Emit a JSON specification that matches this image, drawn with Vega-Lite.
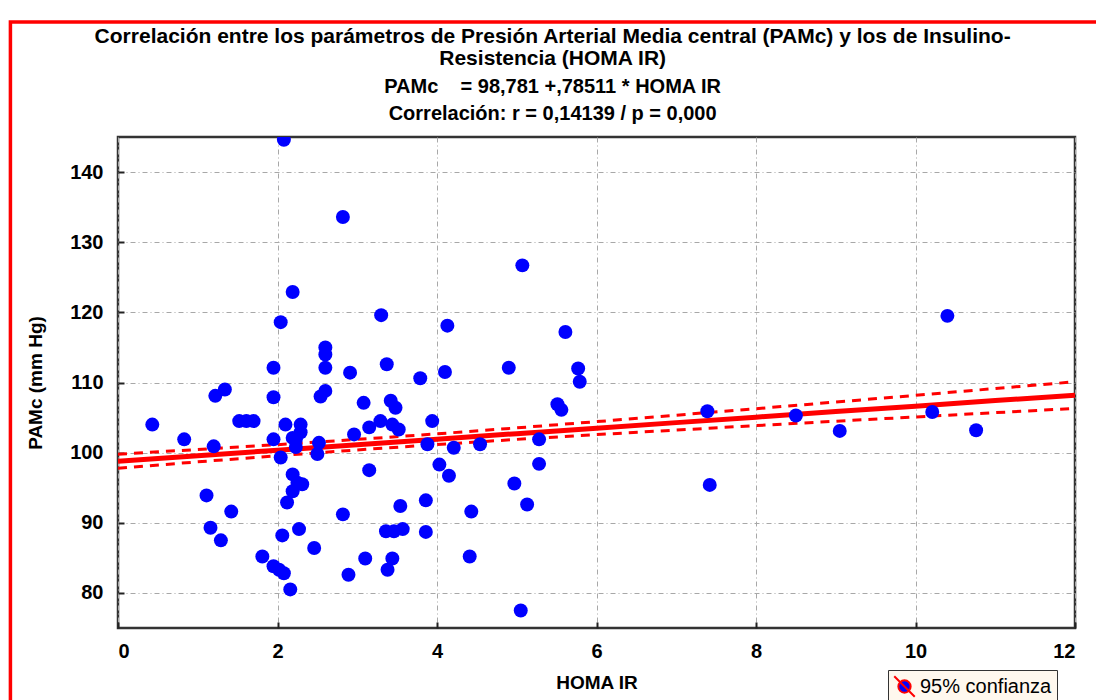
{
  "$schema": "https://vega.github.io/schema/vega-lite/v6.json",
  "width": 957,
  "height": 491,
  "autosize": {"type": "none"},
  "padding": {"left": 118, "top": 137, "right": 21, "bottom": 72},
  "background": "white",
  "title": {
    "text": ["Correlación entre los parámetros de Presión Arterial Media central (PAMc) y los de Insulino-", "Resistencia (HOMA IR)"],
    "subtitle": ["PAMc\u00a0\u00a0\u00a0\u00a0= 98,781 +,78511 * HOMA IR", "Correlación: r = 0,14139 / p = 0,000"],
    "anchor": "middle",
    "frame": "bounds",
    "dx": -10,
    "font": "Liberation Sans",
    "fontSize": 21,
    "fontWeight": "bold",
    "color": "black",
    "lineHeight": 22,
    "subtitleFont": "Liberation Sans",
    "subtitleFontSize": 20,
    "subtitleFontWeight": "bold",
    "subtitleColor": "black",
    "subtitleLineHeight": 27,
    "subtitlePadding": 8,
    "offset": -104
  },
  "datasets": {
    "pts": [
      {"homa": 2.08, "pamc": 144.6}, {"homa": 2.82, "pamc": 133.6}, {"homa": 5.07, "pamc": 126.7},
      {"homa": 2.19, "pamc": 122.9}, {"homa": 2.04, "pamc": 118.6}, {"homa": 3.30, "pamc": 119.6},
      {"homa": 4.13, "pamc": 118.1}, {"homa": 5.61, "pamc": 117.2}, {"homa": 10.40, "pamc": 119.5},
      {"homa": 2.60, "pamc": 115.0}, {"homa": 2.60, "pamc": 114.0}, {"homa": 1.95, "pamc": 112.1},
      {"homa": 2.60, "pamc": 112.1}, {"homa": 2.91, "pamc": 111.4}, {"homa": 3.37, "pamc": 112.6},
      {"homa": 3.79, "pamc": 110.6}, {"homa": 4.10, "pamc": 111.5}, {"homa": 4.90, "pamc": 112.1},
      {"homa": 5.77, "pamc": 112.0}, {"homa": 5.79, "pamc": 110.1}, {"homa": 1.34, "pamc": 109.0},
      {"homa": 1.22, "pamc": 108.1}, {"homa": 1.95, "pamc": 107.9}, {"homa": 2.60, "pamc": 108.8},
      {"homa": 2.54, "pamc": 108.0}, {"homa": 3.08, "pamc": 107.1}, {"homa": 3.42, "pamc": 107.4},
      {"homa": 3.48, "pamc": 106.4}, {"homa": 5.51, "pamc": 106.9}, {"homa": 5.56, "pamc": 106.1},
      {"homa": 0.43, "pamc": 104.0}, {"homa": 0.83, "pamc": 101.9}, {"homa": 1.52, "pamc": 104.5},
      {"homa": 1.61, "pamc": 104.5}, {"homa": 1.70, "pamc": 104.5}, {"homa": 1.20, "pamc": 100.9},
      {"homa": 1.95, "pamc": 101.9}, {"homa": 2.04, "pamc": 99.3}, {"homa": 2.10, "pamc": 104.0},
      {"homa": 2.29, "pamc": 104.0}, {"homa": 2.29, "pamc": 102.9}, {"homa": 2.19, "pamc": 102.1},
      {"homa": 2.23, "pamc": 101.9}, {"homa": 2.52, "pamc": 101.4}, {"homa": 2.50, "pamc": 99.8},
      {"homa": 2.96, "pamc": 102.6}, {"homa": 3.15, "pamc": 103.6}, {"homa": 3.29, "pamc": 104.5},
      {"homa": 3.44, "pamc": 104.0}, {"homa": 3.52, "pamc": 103.3}, {"homa": 3.94, "pamc": 104.5},
      {"homa": 3.88, "pamc": 101.2}, {"homa": 4.21, "pamc": 100.7}, {"homa": 4.54, "pamc": 101.2},
      {"homa": 5.28, "pamc": 101.9}, {"homa": 3.15, "pamc": 97.5}, {"homa": 4.03, "pamc": 98.3},
      {"homa": 4.15, "pamc": 96.7}, {"homa": 5.28, "pamc": 98.4}, {"homa": 4.97, "pamc": 95.6},
      {"homa": 5.13, "pamc": 92.6}, {"homa": 4.43, "pamc": 91.6}, {"homa": 4.41, "pamc": 85.2},
      {"homa": 5.05, "pamc": 77.5}, {"homa": 7.39, "pamc": 105.9}, {"homa": 7.42, "pamc": 95.4},
      {"homa": 8.50, "pamc": 105.3}, {"homa": 9.05, "pamc": 103.1}, {"homa": 10.21, "pamc": 105.8},
      {"homa": 10.76, "pamc": 103.2}, {"homa": 2.19, "pamc": 96.9}, {"homa": 2.25, "pamc": 95.7},
      {"homa": 2.31, "pamc": 95.5}, {"homa": 2.19, "pamc": 94.5}, {"homa": 2.12, "pamc": 92.9},
      {"homa": 1.11, "pamc": 93.9}, {"homa": 1.42, "pamc": 91.6}, {"homa": 1.16, "pamc": 89.3},
      {"homa": 1.29, "pamc": 87.5}, {"homa": 1.81, "pamc": 85.2}, {"homa": 1.95, "pamc": 83.8},
      {"homa": 2.02, "pamc": 83.3}, {"homa": 2.08, "pamc": 82.8}, {"homa": 2.16, "pamc": 80.5},
      {"homa": 2.06, "pamc": 88.2}, {"homa": 2.27, "pamc": 89.1}, {"homa": 2.46, "pamc": 86.4},
      {"homa": 2.82, "pamc": 91.2}, {"homa": 2.89, "pamc": 82.6}, {"homa": 3.10, "pamc": 84.9},
      {"homa": 3.36, "pamc": 88.8}, {"homa": 3.46, "pamc": 88.8}, {"homa": 3.57, "pamc": 89.1},
      {"homa": 3.54, "pamc": 92.4}, {"homa": 3.86, "pamc": 93.2}, {"homa": 3.86, "pamc": 88.7},
      {"homa": 3.44, "pamc": 84.9}, {"homa": 3.38, "pamc": 83.3}, {"homa": 2.23, "pamc": 100.8}
    ],
    "fit": [
      {"homa": 0, "fit": 98.78, "lo": 97.78, "hi": 99.78},
      {"homa": 1, "fit": 99.57, "lo": 98.69, "hi": 100.45},
      {"homa": 2, "fit": 100.35, "lo": 99.56, "hi": 101.14},
      {"homa": 3, "fit": 101.14, "lo": 100.39, "hi": 101.89},
      {"homa": 4, "fit": 101.92, "lo": 101.16, "hi": 102.68},
      {"homa": 5, "fit": 102.71, "lo": 101.89, "hi": 103.53},
      {"homa": 6, "fit": 103.49, "lo": 102.57, "hi": 104.42},
      {"homa": 7, "fit": 104.28, "lo": 103.22, "hi": 105.34},
      {"homa": 8, "fit": 105.06, "lo": 103.86, "hi": 106.27},
      {"homa": 9, "fit": 105.85, "lo": 104.48, "hi": 107.22},
      {"homa": 10, "fit": 106.63, "lo": 105.09, "hi": 108.17},
      {"homa": 11, "fit": 107.42, "lo": 105.70, "hi": 109.14},
      {"homa": 12, "fit": 108.20, "lo": 106.30, "hi": 110.10}
    ]
  },
  "layer": [
    {
      "data": {"name": "fit"},
      "mark": {"type": "line", "color": "#FF0000", "strokeWidth": 3, "strokeDash": [9, 7], "clip": true},
      "encoding": {
        "x": {"field": "homa", "type": "quantitative", "scale": {"domain": [0, 12], "nice": false},
          "axis": {"values": [0, 2, 4, 6, 8, 10, 12], "format": "d", "title": "HOMA IR", "grid": true, "tickSize": -6, "labelPadding": 19, "titlePadding": 12}},
        "y": {"field": "lo", "type": "quantitative", "scale": {"domain": [75, 145], "nice": false, "zero": false},
          "axis": {"values": [80, 90, 100, 110, 120, 130, 140], "format": "d", "title": "PAMc (mm Hg)", "grid": true, "tickSize": -6, "labelPadding": 21, "titlePadding": 24}}
      }
    },
    {
      "data": {"name": "fit"},
      "mark": {"type": "line", "color": "#FF0000", "strokeWidth": 3, "strokeDash": [9, 7], "clip": true},
      "encoding": {
        "x": {"field": "homa", "type": "quantitative"},
        "y": {"field": "hi", "type": "quantitative"}
      }
    },
    {
      "data": {"name": "fit"},
      "mark": {"type": "line", "color": "#FF0000", "strokeWidth": 5, "clip": true},
      "encoding": {
        "x": {"field": "homa", "type": "quantitative"},
        "y": {"field": "fit", "type": "quantitative"}
      }
    },
    {
      "data": {"name": "pts"},
      "mark": {"type": "circle", "opacity": 1, "size": 195, "clip": true},
      "encoding": {
        "x": {"field": "homa", "type": "quantitative"},
        "y": {"field": "pamc", "type": "quantitative"},
        "color": {"datum": "95% confianza", "type": "nominal", "scale": {"range": ["#0000FF"]},
          "legend": {"title": null, "orient": "none", "legendX": 770, "legendY": 533,
            "symbolType": "M-1,-1L1,1M0.6,0A0.6,0.6 0 1 1 -0.6,0A0.6,0.6 0 1 1 0.6,0Z",
            "symbolSize": 420, "symbolStrokeColor": "#FF0000", "symbolStrokeWidth": 2, "symbolFillColor": "#0000FF", "symbolOpacity": 1,
            "labelFont": "Liberation Sans", "labelFontSize": 20, "labelColor": "black",
            "fillColor": "#FFF8EE", "strokeColor": "#333333", "padding": 5, "cornerRadius": 0}}
      }
    },
    {
      "data": {"values": [{}]},
      "mark": {"type": "rect", "fillOpacity": 0, "stroke": "#FF0000", "strokeWidth": 3.5, "clip": false},
      "encoding": {
        "x": {"datum": -1.349, "type": "quantitative"},
        "x2": {"datum": 12.5},
        "y": {"datum": 161.4, "type": "quantitative"},
        "y2": {"datum": 63}
      }
    }
  ],
  "config": {
    "font": "Liberation Sans",
    "view": {"stroke": "#333333", "strokeWidth": 2.5},
    "axis": {
      "labelFont": "Liberation Sans", "labelFontSize": 20, "labelFontWeight": "bold", "labelColor": "black",
      "titleFont": "Liberation Sans", "titleFontSize": 19, "titleFontWeight": "bold", "titleColor": "black",
      "domain": false, "tickColor": "#222222", "tickWidth": 2,
      "gridColor": "#A8A8A8", "gridDash": [5, 3, 1, 3], "gridWidth": 1
    }
  }
}
